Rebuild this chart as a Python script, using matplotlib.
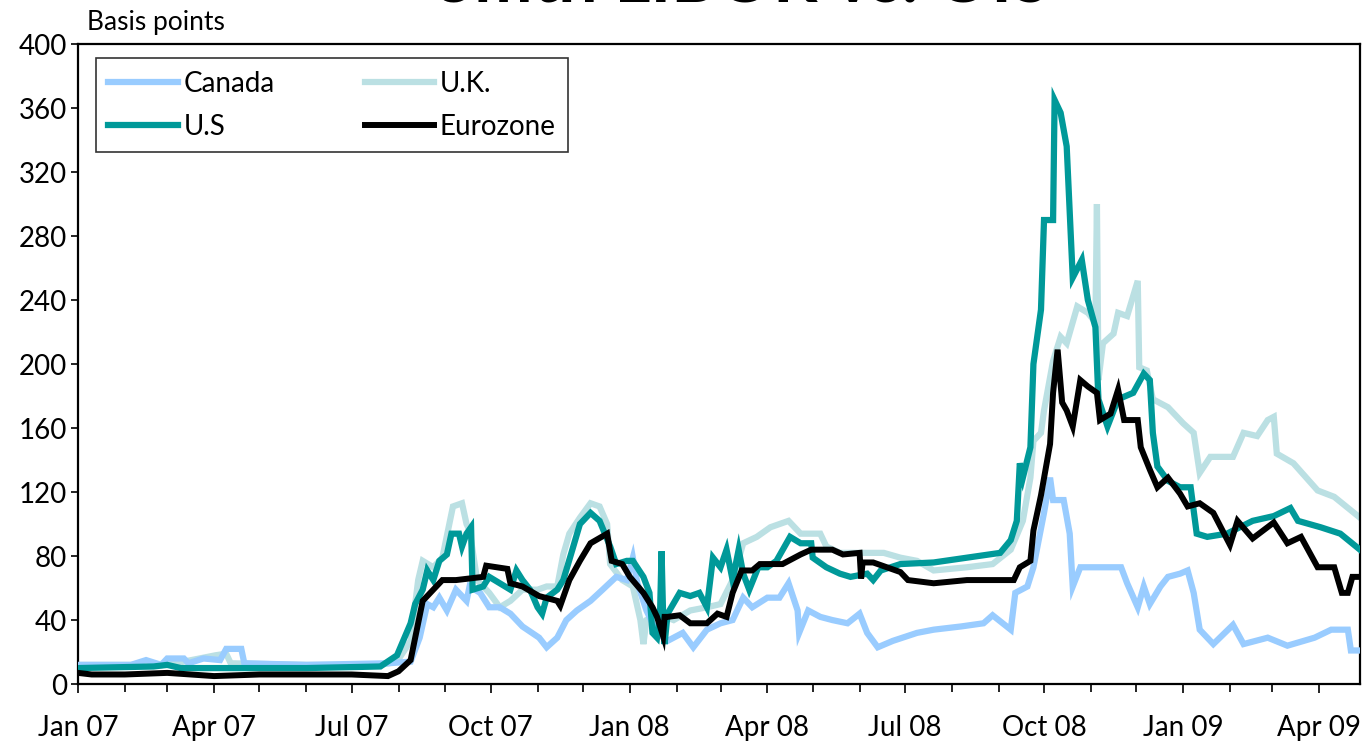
import matplotlib
matplotlib.use("Agg")
import matplotlib.pyplot as plt
import matplotlib.dates as mdates
import pandas as pd

plt.rcParams['font.family'] = ['Lato', 'DejaVu Sans']

# ---------------- data (basis points) ----------------
canada_dates = ["2007-01-01", "2007-02-05", "2007-02-15", "2007-02-25", "2007-03-01", "2007-03-12", "2007-03-15",
                "2007-03-25", "2007-04-05", "2007-04-09", "2007-04-19", "2007-04-21", "2007-06-01", "2007-07-25",
                "2007-08-09", "2007-08-15", "2007-08-20", "2007-08-24", "2007-08-28", "2007-09-02", "2007-09-08",
                "2007-09-15", "2007-09-17", "2007-09-24", "2007-09-30", "2007-10-07", "2007-10-14", "2007-10-22",
                "2007-11-02", "2007-11-07", "2007-11-14", "2007-11-20", "2007-11-27", "2007-12-06", "2007-12-14",
                "2007-12-23", "2007-12-30", "2008-01-03", "2008-01-06", "2008-01-12", "2008-01-19", "2008-01-26",
                "2008-02-05", "2008-02-12", "2008-02-21", "2008-03-01", "2008-03-09", "2008-03-16", "2008-03-22",
                "2008-04-01", "2008-04-09", "2008-04-15", "2008-04-21", "2008-04-22", "2008-04-28", "2008-05-06",
                "2008-05-14", "2008-05-24", "2008-06-01", "2008-06-06", "2008-06-13", "2008-06-23", "2008-07-09",
                "2008-07-20", "2008-08-07", "2008-08-22", "2008-08-28", "2008-09-09", "2008-09-12", "2008-09-20",
                "2008-09-24", "2008-10-01", "2008-10-05", "2008-10-07", "2008-10-14", "2008-10-18", "2008-10-20",
                "2008-10-25", "2008-11-21", "2008-11-25", "2008-12-02", "2008-12-06", "2008-12-10", "2008-12-17",
                "2008-12-22", "2008-12-30", "2009-01-04", "2009-01-08", "2009-01-12", "2009-01-21", "2009-02-03",
                "2009-02-10", "2009-02-26", "2009-03-11", "2009-03-29", "2009-04-09", "2009-04-20", "2009-04-22",
                "2009-04-28"]
canada_vals = [12, 12, 15, 12, 16, 16, 13,
               16, 15, 22, 22, 13, 12, 13,
               14, 29, 50, 48, 54, 46, 59,
               52, 61, 57, 48, 48, 44, 36,
               29, 23, 29, 40, 46, 52, 59,
               67, 65, 79, 63, 46, 32, 27,
               32, 23, 34, 38, 40, 54, 48,
               54, 54, 63, 46, 32, 46, 42,
               40, 38, 44, 32, 23, 27, 32,
               34, 36, 38, 43, 34, 57, 61,
               73, 107, 129, 115, 115, 94, 61,
               73, 73, 63, 48, 61, 50, 61,
               67, 69, 71, 57, 34, 25, 37,
               25, 29, 24, 29, 34, 34, 21,
               21]

uk_dates = ["2007-01-01", "2007-03-01", "2007-04-02", "2007-04-09", "2007-04-12", "2007-06-01", "2007-07-20",
            "2007-07-31", "2007-08-09", "2007-08-14", "2007-08-17", "2007-08-24", "2007-08-30", "2007-09-06",
            "2007-09-12", "2007-09-15", "2007-09-17", "2007-09-22", "2007-09-30", "2007-10-07", "2007-10-14",
            "2007-10-22", "2007-11-01", "2007-11-07", "2007-11-14", "2007-11-18", "2007-11-22", "2007-11-29",
            "2007-12-06", "2007-12-12", "2007-12-17", "2007-12-19", "2007-12-27", "2008-01-03", "2008-01-08",
            "2008-01-10", "2008-01-12", "2008-01-19", "2008-01-30", "2008-02-10", "2008-02-21", "2008-03-01",
            "2008-03-09", "2008-03-16", "2008-03-25", "2008-04-03", "2008-04-15", "2008-04-23", "2008-05-06",
            "2008-05-10", "2008-05-19", "2008-06-06", "2008-06-17", "2008-06-28", "2008-07-09", "2008-07-20",
            "2008-08-11", "2008-08-28", "2008-09-09", "2008-09-17", "2008-09-22", "2008-09-24", "2008-09-29",
            "2008-10-01", "2008-10-07", "2008-10-12", "2008-10-16", "2008-10-23", "2008-10-30", "2008-11-04",
            "2008-11-05", "2008-11-06", "2008-11-09", "2008-11-16", "2008-11-19", "2008-11-25", "2008-12-02",
            "2008-12-03", "2008-12-08", "2008-12-12", "2008-12-22", "2009-01-01", "2009-01-08", "2009-01-12",
            "2009-01-19", "2009-02-03", "2009-02-10", "2009-02-19", "2009-02-26", "2009-03-02", "2009-03-04",
            "2009-03-15", "2009-03-31", "2009-04-11", "2009-04-28"]
uk_vals = [12, 12, 18, 19, 13, 12, 12,
           14, 27, 65, 77, 73, 79, 111,
           113, 100, 96, 65, 57, 48, 52,
           59, 59, 61, 61, 81, 94, 104,
           113, 111, 100, 75, 65, 61, 40,
           25, 40, 44, 40, 46, 48, 50,
           65, 88, 92, 98, 102, 94, 94,
           86, 82, 82, 82, 79, 77, 71,
           73, 75, 84, 102, 129, 152, 157,
           171, 202, 217, 213, 236, 232, 226,
           300, 190, 213, 219, 232, 230, 252,
           198, 196, 178, 173, 163, 157, 132,
           142, 142, 157, 155, 165, 167, 144,
           138, 121, 117, 104]

us_dates = ["2007-01-01", "2007-02-20", "2007-03-01", "2007-03-10", "2007-06-01", "2007-07-20", "2007-07-31",
            "2007-08-09", "2007-08-12", "2007-08-17", "2007-08-20", "2007-08-24", "2007-08-28", "2007-09-02",
            "2007-09-05", "2007-09-10", "2007-09-12", "2007-09-15", "2007-09-18", "2007-09-19", "2007-09-26",
            "2007-09-30", "2007-10-07", "2007-10-14", "2007-10-18", "2007-10-22", "2007-10-27", "2007-11-01",
            "2007-11-04", "2007-11-07", "2007-11-14", "2007-11-18", "2007-11-24", "2007-11-29", "2007-12-06",
            "2007-12-12", "2007-12-19", "2007-12-23", "2007-12-30", "2008-01-03", "2008-01-10", "2008-01-14",
            "2008-01-16", "2008-01-19", "2008-01-21", "2008-01-22", "2008-01-23", "2008-01-24", "2008-01-26",
            "2008-02-03", "2008-02-10", "2008-02-16", "2008-02-21", "2008-02-25", "2008-03-01", "2008-03-05",
            "2008-03-09", "2008-03-13", "2008-03-16", "2008-03-20", "2008-03-26", "2008-04-01", "2008-04-07",
            "2008-04-16", "2008-04-23", "2008-04-30", "2008-05-01", "2008-05-10", "2008-05-19", "2008-05-26",
            "2008-06-06", "2008-06-10", "2008-06-15", "2008-06-28", "2008-07-20", "2008-08-11", "2008-09-02",
            "2008-09-09", "2008-09-13", "2008-09-15", "2008-09-17", "2008-09-22", "2008-09-24", "2008-09-29",
            "2008-10-01", "2008-10-07", "2008-10-08", "2008-10-12", "2008-10-16", "2008-10-20", "2008-10-26",
            "2008-10-30", "2008-11-04", "2008-11-06", "2008-11-12", "2008-11-19", "2008-11-29", "2008-12-06",
            "2008-12-10", "2008-12-12", "2008-12-15", "2008-12-22", "2008-12-30", "2009-01-06", "2009-01-10",
            "2009-01-17", "2009-01-30", "2009-02-16", "2009-03-02", "2009-03-13", "2009-03-18", "2009-04-02",
            "2009-04-15", "2009-04-28"]
us_vals = [10, 11, 12, 10, 10, 11, 18,
           38, 50, 59, 71, 65, 77, 81,
           94, 94, 86, 94, 98, 59, 61,
           67, 63, 59, 71, 65, 59, 48,
           44, 54, 59, 65, 84, 100, 107,
           102, 86, 75, 77, 77, 67, 57,
           32, 29, 44, 83, 44, 25, 44,
           57, 55, 57, 48, 79, 73, 84,
           65, 84, 69, 59, 73, 73, 77,
           92, 88, 88, 79, 73, 69, 67,
           69, 65, 71, 75, 76, 79, 82,
           90, 102, 138, 129, 148, 200, 234,
           290, 290, 365, 357, 336, 254, 265,
           240, 223, 178, 161, 178, 182, 194,
           190, 157, 136, 127, 123, 123, 94,
           92, 94, 102, 105, 110, 102, 98,
           94, 84]

euro_dates = ["2007-01-01", "2007-01-10", "2007-02-01", "2007-03-01", "2007-04-01", "2007-05-01", "2007-06-01",
              "2007-07-01", "2007-07-25", "2007-08-01", "2007-08-09", "2007-08-17", "2007-08-24", "2007-08-30",
              "2007-09-08", "2007-09-17", "2007-09-26", "2007-09-28", "2007-10-12", "2007-10-14", "2007-10-22",
              "2007-11-02", "2007-11-14", "2007-11-16", "2007-11-22", "2007-11-29", "2007-12-06", "2007-12-17",
              "2007-12-20", "2007-12-27", "2008-01-01", "2008-01-10", "2008-01-16", "2008-01-19", "2008-01-23",
              "2008-01-24", "2008-01-26", "2008-02-03", "2008-02-10", "2008-02-21", "2008-02-28", "2008-03-05",
              "2008-03-09", "2008-03-15", "2008-03-22", "2008-03-27", "2008-04-11", "2008-04-23", "2008-04-30",
              "2008-05-14", "2008-05-21", "2008-06-01", "2008-06-02", "2008-06-03", "2008-06-10", "2008-06-19",
              "2008-06-28", "2008-07-03", "2008-07-20", "2008-08-11", "2008-09-11", "2008-09-15", "2008-09-22",
              "2008-09-24", "2008-09-29", "2008-10-05", "2008-10-07", "2008-10-10", "2008-10-13", "2008-10-16",
              "2008-10-20", "2008-10-25", "2008-10-30", "2008-11-05", "2008-11-07", "2008-11-14", "2008-11-19",
              "2008-11-23", "2008-12-02", "2008-12-04", "2008-12-10", "2008-12-15", "2008-12-22", "2008-12-30",
              "2009-01-04", "2009-01-12", "2009-01-21", "2009-02-01", "2009-02-06", "2009-02-16", "2009-03-02",
              "2009-03-11", "2009-03-20", "2009-03-31", "2009-04-11", "2009-04-16", "2009-04-20", "2009-04-23",
              "2009-04-28"]
euro_vals = [7, 6, 6, 7, 5, 6, 6,
             6, 5, 8, 15, 52, 59, 65,
             65, 66, 67, 74, 72, 63, 61,
             55, 52, 49, 65, 77, 88, 94,
             77, 75, 67, 57, 48, 42, 30,
             42, 42, 43, 38, 38, 44, 42,
             57, 71, 71, 75, 75, 81, 84,
             84, 81, 82, 66, 76, 76, 73,
             70, 65, 63, 65, 65, 73, 77,
             96, 118, 150, 182, 209, 176, 171,
             161, 190, 186, 182, 165, 169, 184,
             165, 165, 148, 134, 123, 129, 119,
             111, 113, 107, 87, 102, 91, 101,
             88, 92, 73, 73, 57, 57, 67,
             67]

y_ticks = [0, 40, 80, 120, 160, 200, 240, 280, 320, 360, 400]

# ---------------- figure ----------------
fig = plt.figure(figsize=(13.62, 7.46), dpi=100)
ax = fig.add_axes([0.0573, 0.083, 0.9412, 0.858])

col_canada = "#99CCFF"
col_uk = "#BBE0E3"
col_us = "#009999"
col_euro = "#000000"

l_uk, = ax.plot(pd.to_datetime(uk_dates), uk_vals, color=col_uk, lw=4.5, solid_joinstyle='miter', zorder=2)
l_ca, = ax.plot(pd.to_datetime(canada_dates), canada_vals, color=col_canada, lw=4.5, solid_joinstyle='miter', zorder=3)
l_us, = ax.plot(pd.to_datetime(us_dates), us_vals, color=col_us, lw=4.5, solid_joinstyle='miter', zorder=4)
l_eu, = ax.plot(pd.to_datetime(euro_dates), euro_vals, color=col_euro, lw=4.3, solid_joinstyle='miter', zorder=5)

ax.set_ylim(0, 400)
ax.set_yticks(y_ticks)
ax.set_xlim(pd.Timestamp("2007-01-01"), pd.Timestamp("2009-04-28"))

ax.xaxis.set_major_locator(mdates.MonthLocator(bymonth=[1, 4, 7, 10]))
ax.xaxis.set_major_formatter(mdates.DateFormatter("%b %y"))
ax.xaxis.set_minor_locator(mdates.MonthLocator())

for s in ax.spines.values():
    s.set_color("black")
    s.set_linewidth(1.6)

ax.tick_params(axis='y', direction='out', length=5, width=1.2, labelsize=20, pad=3)
ax.tick_params(axis='x', which='major', direction='out', length=6.5, width=1.2, labelsize=20, pad=16)
ax.tick_params(axis='x', which='minor', direction='out', length=6, width=1.2)

fig.text(0.064, 0.970, "Basis points", fontsize=19, ha='left', va='center')
fig.text(0.545, 0.998, "3mth LIBOR vs. OIS", fontsize=50, fontweight='bold',
         ha='center', va='baseline')

handles = [l_ca, l_us, l_uk, l_eu]
labels = ["Canada", "U.S", "U.K.", "Eurozone"]
leg = ax.legend(handles, labels, ncol=2, loc='upper left', bbox_to_anchor=(0.014, 0.978),
                fontsize=20, frameon=True, fancybox=False, edgecolor='black',
                handlelength=2.5, handletextpad=0.2, columnspacing=3.25, labelspacing=0.62,
                borderpad=0.45, borderaxespad=0)
leg.get_frame().set_linewidth(1.2)

fig.savefig("out.png", dpi=100)
